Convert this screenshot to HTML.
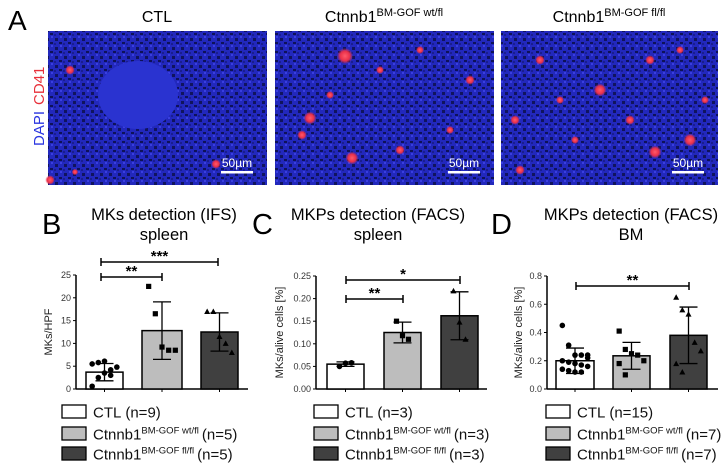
<!DOCTYPE html>
<html><head><meta charset="utf-8"><style>
body{margin:0;background:#fff}
svg{display:block;font-family:"Liberation Sans",Arial,sans-serif}
</style></head><body>
<svg id="fig" width="728" height="473" viewBox="0 0 728 473">
<defs>
<radialGradient id="rd"><stop offset="0" stop-color="#ff5a6a"/><stop offset="0.6" stop-color="#e8304a"/><stop offset="1" stop-color="#e8304a" stop-opacity="0"/></radialGradient>
<pattern id="tex" width="9" height="9" patternUnits="userSpaceOnUse"><rect width="9" height="9" fill="#2228bc"/><rect x="1" y="2" width="3" height="3" fill="#10145e"/><rect x="5" y="6" width="3" height="2" fill="#0e1258"/><rect x="6" y="0" width="2" height="2" fill="#3a3fe0"/><rect x="0" y="7" width="2" height="2" fill="#1a1e90"/></pattern>
</defs>
<text x="8" y="30" font-size="28">A</text>
<text x="157" y="22" font-size="16" text-anchor="middle">CTL</text>
<text x="384" y="22" font-size="16" text-anchor="middle">Ctnnb1<tspan font-size="11" dy="-6">BM-GOF wt/fl</tspan></text>
<text x="609" y="22" font-size="16" text-anchor="middle">Ctnnb1<tspan font-size="11" dy="-6">BM-GOF fl/fl</tspan></text>
<text transform="translate(44,146) rotate(-90)" font-size="15"><tspan fill="#2a35e0">DAPI</tspan><tspan fill="#e8303a" dx="6">CD41</tspan></text>
<g id="imgs"></g>
<g id="charts"></g>
</svg>
<script>
// ---- Panel B data ----
const groupsB = ["CTL (n=9)", "wt/fl (n=5)", "fl/fl (n=5)"];
const meansB = [3.7, 12.8, 12.5];
const sdB = [1.9, 6.3, 4.2];
const ticksB = [0, 5, 10, 15, 20, 25];
const ptsB0 = [0.6, 2.5, 3.5, 4.2, 4.8, 5.5, 5.8, 6.1, 3.0];
const ptsB1 = [22.5, 16.5, 9.2, 8.5, 8.5];
const ptsB2 = [17, 17, 11.5, 10, 8];
// ---- Panel C data ----
const meansC = [0.055, 0.125, 0.162];
const sdC = [0.005, 0.023, 0.053];
const ticksC = [0, 0.05, 0.10, 0.15, 0.20, 0.25];
const ptsC0 = [0.05, 0.057, 0.058];
const ptsC1 = [0.15, 0.118, 0.11];
const ptsC2 = [0.217, 0.148, 0.11];
// ---- Panel D data ----
const meansD = [0.2, 0.235, 0.38];
const sdD = [0.09, 0.095, 0.2];
const ticksD = [0, 0.2, 0.4, 0.6, 0.8];
const ptsD0 = [0.45, 0.31, 0.24, 0.24, 0.22, 0.2, 0.19, 0.18, 0.17, 0.16, 0.14, 0.13, 0.12, 0.12, 0.24];
const ptsD1 = [0.41, 0.28, 0.25, 0.24, 0.2, 0.18, 0.1];
const ptsD2 = [0.65, 0.56, 0.53, 0.33, 0.27, 0.18, 0.12];

const NS = "http://www.w3.org/2000/svg";
function el(tag, attrs, parent, txt) {
  const e = document.createElementNS(NS, tag);
  for (const k in attrs) e.setAttribute(k, attrs[k]);
  if (txt !== undefined) e.textContent = txt;
  parent.appendChild(e);
  return e;
}
const fills = ["#ffffff", "#bdbdbd", "#404040"];

// micrographs
const imgs = document.getElementById("imgs");
const imgBoxes = [[48, 31, 219, 154], [275, 31, 219, 154], [501, 31, 217, 154]];
const dotSets = [
  [[70, 70, 3], [50, 180, 3], [216, 164, 3], [75, 172, 2]],
  [[345, 56, 5], [310, 118, 4], [302, 135, 3], [352, 158, 4], [420, 50, 2.5], [470, 80, 3], [400, 150, 3], [330, 95, 2.5], [450, 130, 2.5], [380, 70, 2.5]],
  [[515, 120, 3], [540, 60, 3], [600, 90, 4], [650, 60, 3], [690, 140, 4], [655, 152, 4], [520, 170, 3], [575, 140, 2.5], [630, 120, 3], [705, 100, 2.5], [560, 100, 2.5], [680, 50, 2.5]]
];
imgBoxes.forEach((b, i) => {
  const g = el("g", {}, imgs);
  
  
  el("rect", {x: b[0], y: b[1], width: b[2], height: b[3], fill: "url(#tex)"}, g);
  if (i === 0) el("ellipse", {cx: 138, cy: 95, rx: 40, ry: 34, fill: "#2a33d0"}, g);
  dotSets[i].forEach(d => el("circle", {cx: d[0], cy: d[1], r: d[2] * 1.6, fill: "url(#rd)"}, g));
  const sx = b[0] + b[2] - 46;
  el("text", {x: sx + 16, y: 167, "font-size": 12, fill: "#fff", "text-anchor": "middle"}, g, "50µm");
  el("rect", {x: sx, y: 171, width: 32, height: 2.5, fill: "#fff"}, g);
});

const charts = document.getElementById("charts");
function panel(cfg) {
  const g = el("g", {}, charts);
  
  
  const y = v => cfg.y0 - (v / cfg.max) * (cfg.y0 - cfg.yTop);
  el("text", {x: cfg.letterX, y: 234, "font-size": 29}, g, cfg.letter);
  el("text", {x: cfg.titleX, y: 220, "font-size": 16.5, "text-anchor": "middle"}, g, cfg.t1);
  el("text", {x: cfg.titleX, y: 240, "font-size": 16.5, "text-anchor": "middle"}, g, cfg.t2);
  el("line", {x1: cfg.ax, y1: cfg.yTop, x2: cfg.ax, y2: cfg.y0, stroke: "#000", "stroke-width": 1.5}, g);
  el("line", {x1: cfg.ax, y1: cfg.y0, x2: cfg.axEnd, y2: cfg.y0, stroke: "#000", "stroke-width": 1.5}, g);
  cfg.ticks.forEach(t => {
    el("line", {x1: cfg.ax - 3, y1: y(t), x2: cfg.ax, y2: y(t), stroke: "#000"}, g);
    const lbl = el("text", {x: cfg.ax - 5, y: y(t) + 3, "font-size": 9, fill: "#333", "text-anchor": "end"}, g, cfg.fmt(t));
    
    
  });
  const yt = el("text", {transform: `translate(${cfg.ytX},${(cfg.y0 + cfg.yTop) / 2}) rotate(-90)`, "font-size": 11, "text-anchor": "middle", fill: "#222"}, g, cfg.ytitle);
  
  
  cfg.means.forEach((m, i) => {
    const [x1, x2] = cfg.bars[i];
    const cx = (x1 + x2) / 2;
    const r = el("rect", {x: x1, y: y(m), width: x2 - x1, height: cfg.y0 - y(m), fill: fills[i], stroke: "#000", "stroke-width": 1.5}, g);
    
    
    el("line", {x1: cx, y1: cfg.y0, x2: cx, y2: cfg.y0 + 3, stroke: "#000"}, g);
    const hi = y(m + cfg.sd[i]), lo = y(Math.max(0, m - cfg.sd[i]));
    el("line", {x1: cx, y1: hi, x2: cx, y2: lo, stroke: "#000", "stroke-width": 1.3}, g);
    el("line", {x1: cx - 9, y1: hi, x2: cx + 9, y2: hi, stroke: "#000", "stroke-width": 1.3}, g);
    el("line", {x1: cx - 9, y1: lo, x2: cx + 9, y2: lo, stroke: "#000", "stroke-width": 1.3}, g);
    const pts = cfg.pts[i];
    pts.forEach((p, j) => {
      const off = ((j % 5) - 2) * ((x2 - x1) / 6);
      const px = cx + (pts.length > 3 ? off : (j - 1) * 6);
      const py = y(p);
      let d;
      if (i === 0) d = el("circle", {cx: px, cy: py, r: 2.8, fill: "#000"}, g);
      else if (i === 1) d = el("rect", {x: px - 2.6, y: py - 2.6, width: 5.2, height: 5.2, fill: "#000"}, g);
      else d = el("polygon", {points: `${px},${py - 3} ${px - 3},${py + 2.5} ${px + 3},${py + 2.5}`, fill: "#000"}, g);
      
      
    });
  });
  cfg.brackets.forEach(b => {
    const c = el("g", {}, g);
    
    
    el("line", {x1: b[0], y1: b[2], x2: b[1], y2: b[2], stroke: "#000", "stroke-width": 1.5}, c);
    el("line", {x1: b[0], y1: b[2] - 4, x2: b[0], y2: b[2] + 4, stroke: "#000", "stroke-width": 1.5}, c);
    el("line", {x1: b[1], y1: b[2] - 4, x2: b[1], y2: b[2] + 4, stroke: "#000", "stroke-width": 1.5}, c);
    el("text", {x: (b[0] + b[1]) / 2, y: b[2] - 1, "font-size": 15, "font-weight": "bold", "text-anchor": "middle"}, c, b[3]);
  });
  const labels = [["CTL", "", cfg.n[0]], ["Ctnnb1", "BM-GOF wt/fl", cfg.n[1]], ["Ctnnb1", "BM-GOF fl/fl", cfg.n[2]]];
  const ly = [405, 427, 447];
  labels.forEach((l, i) => {
    const lg = el("g", {}, g);
    
    
    el("rect", {x: cfg.legX, y: ly[i], width: 24, height: 13, fill: fills[i], stroke: "#000", "stroke-width": 1.3}, lg);
    const t = el("text", {x: cfg.legX + 31, y: ly[i] + 12.5, "font-size": 15, fill: "#111"}, lg);
    t.appendChild(document.createTextNode(l[0]));
    if (l[1]) { el("tspan", {"font-size": 9.5, dy: -6}, t, l[1]); el("tspan", {dy: 6, dx: 3}, t, "(n=" + l[2] + ")"); }
    else el("tspan", {dx: 4}, t, "(n=" + l[2] + ")");
  });
}
panel({name: "panel-b-chart", letter: "B", letterX: 42, titleX: 164, t1: "MKs detection (IFS)", t2: "spleen",
  ax: 76, axEnd: 248, y0: 389, yTop: 275, max: 25, ticks: ticksB, fmt: t => String(t), ytX: 52, ytitle: "MKs/HPF",
  means: meansB, sd: sdB, pts: [ptsB0, ptsB1, ptsB2], bars: [[86, 123], [142, 182], [201, 238]],
  brackets: [[101, 218, 262, "***"], [101, 162, 277, "**"]], legX: 62, n: [9, 5, 5]});
panel({name: "panel-c-chart", letter: "C", letterX: 252, titleX: 378, t1: "MKPs detection (FACS)", t2: "spleen",
  ax: 316, axEnd: 487, y0: 389, yTop: 276, max: 0.25, ticks: ticksC, fmt: t => t.toFixed(2), ytX: 283, ytitle: "MKs/alive cells [%]",
  means: meansC, sd: sdC, pts: [ptsC0, ptsC1, ptsC2], bars: [[327, 364], [384, 421], [441, 478]],
  brackets: [[346, 460, 280, "*"], [346, 403, 299, "**"]], legX: 314, n: [3, 3, 3]});
panel({name: "panel-d-chart", letter: "D", letterX: 491, titleX: 631, t1: "MKPs detection (FACS)", t2: "BM",
  ax: 547, axEnd: 718, y0: 389, yTop: 276, max: 0.8, ticks: ticksD, fmt: t => t.toFixed(1), ytX: 522, ytitle: "MKs/alive cells [%]",
  means: meansD, sd: sdD, pts: [ptsD0, ptsD1, ptsD2], bars: [[556, 594], [613, 650], [670, 707]],
  brackets: [[576, 689, 286, "**"]], legX: 546, n: [15, 7, 7]});
</script>
</body></html>
